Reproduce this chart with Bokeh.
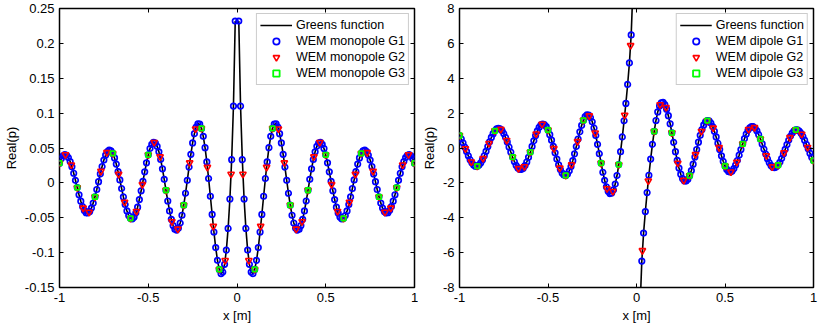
from bokeh.plotting import figure
from bokeh.models import (Range1d, FixedTicker, LinearAxis, CustomJSTickFormatter,
                          Legend, LegendItem)
from bokeh.layouts import row
from bokeh.embed import file_html
from bokeh.resources import INLINE

# ---------------- data ----------------
# sample positions: G1 every 0.01 m, G2 every 1/30 m, G3 every 0.1 m (source at x = 0 excluded)
x_g1_neg = [i / 100 for i in range(-100, 0)]
x_g1_pos = [i / 100 for i in range(1, 101)]
x_g2_neg = [j / 30 for j in range(-30, 0)]
x_g2_pos = [j / 30 for j in range(1, 31)]
x_g3_neg = [k / 10 for k in range(-10, 0)]
x_g3_pos = [k / 10 for k in range(1, 11)]

# monopole, G1 samples (x = -1.00 ... -0.01)
mono_g1_neg = [
    0.0283, 0.0345, 0.0387, 0.0404, 0.0396, 0.0363, 0.0306, 0.0230, 0.0138, 0.0037,
    -0.0068, -0.0170, -0.0262, -0.0339, -0.0395, -0.0427, -0.0432, -0.0410, -0.0362, -0.0290,
    -0.0200, -0.0095, 0.0017, 0.0129, 0.0235, 0.0327, 0.0399, 0.0448, 0.0469, 0.0460,
    0.0422, 0.0357, 0.0269, 0.0161, 0.0042, -0.0081, -0.0201, -0.0310, -0.0402, -0.0469,
    -0.0508, -0.0515, -0.0490, -0.0433, -0.0348, -0.0239, -0.0113, 0.0022, 0.0159, 0.0288,
    0.0402, 0.0493, 0.0553, 0.0581, 0.0571, 0.0525, 0.0445, 0.0335, 0.0201, 0.0051,
    -0.0106, -0.0260, -0.0402, -0.0522, -0.0612, -0.0665, -0.0677, -0.0648, -0.0575, -0.0464,
    -0.0319, -0.0149, 0.0037, 0.0227, 0.0409, 0.0573, 0.0706, 0.0800, 0.0846, 0.0841,
    0.0781, 0.0667, 0.0505, 0.0300, 0.0063, -0.0192, -0.0453, -0.0704, -0.0928, -0.1111,
    -0.1241, -0.1300, -0.1279, -0.1168, -0.0964, -0.0653, -0.0231, 0.0333, 0.1101, 0.2320]
# monopole, G1 samples (x = 0.01 ... 1.00)
mono_g1_pos = [
    0.2320, 0.1101, 0.0333, -0.0231, -0.0653, -0.0964, -0.1168, -0.1279, -0.1300, -0.1241,
    -0.1111, -0.0928, -0.0704, -0.0453, -0.0192, 0.0063, 0.0300, 0.0505, 0.0667, 0.0781,
    0.0841, 0.0846, 0.0800, 0.0706, 0.0573, 0.0409, 0.0227, 0.0037, -0.0149, -0.0319,
    -0.0464, -0.0575, -0.0648, -0.0677, -0.0665, -0.0612, -0.0522, -0.0402, -0.0260, -0.0106,
    0.0051, 0.0201, 0.0335, 0.0445, 0.0525, 0.0571, 0.0581, 0.0553, 0.0493, 0.0402,
    0.0288, 0.0159, 0.0022, -0.0113, -0.0239, -0.0348, -0.0433, -0.0490, -0.0515, -0.0508,
    -0.0469, -0.0402, -0.0310, -0.0201, -0.0081, 0.0042, 0.0161, 0.0269, 0.0357, 0.0422,
    0.0460, 0.0469, 0.0448, 0.0399, 0.0327, 0.0235, 0.0129, 0.0017, -0.0095, -0.0200,
    -0.0290, -0.0362, -0.0410, -0.0432, -0.0427, -0.0395, -0.0339, -0.0262, -0.0170, -0.0068,
    0.0037, 0.0138, 0.0230, 0.0306, 0.0363, 0.0396, 0.0404, 0.0387, 0.0345, 0.0283]
mono_g2_neg = [
    0.0283, 0.0404, 0.0257, -0.0068, -0.0360, -0.0420, -0.0200, 0.0166, 0.0435, 0.0422,
    0.0123, -0.0276, -0.0508, -0.0408, -0.0023, 0.0402, 0.0581, 0.0375, -0.0106, -0.0555,
    -0.0662, -0.0319, 0.0289, 0.0774, 0.0781, 0.0224, -0.0622, -0.1241, -0.1112, 0.0125]
mono_g2_pos = [
    0.0125, -0.1112, -0.1241, -0.0622, 0.0224, 0.0781, 0.0774, 0.0289, -0.0319, -0.0662,
    -0.0555, -0.0106, 0.0375, 0.0581, 0.0402, -0.0023, -0.0408, -0.0508, -0.0276, 0.0123,
    0.0422, 0.0435, 0.0166, -0.0200, -0.0420, -0.0360, -0.0068, 0.0257, 0.0404, 0.0283]
mono_g3_neg = [0.0283, -0.0068, -0.0200, 0.0422, -0.0508, 0.0402, -0.0106, -0.0319, 0.0781, -0.1241]
mono_g3_pos = [-0.1241, 0.0781, -0.0319, -0.0106, 0.0402, -0.0508, 0.0422, -0.0200, -0.0068, 0.0283]

# dipole, G1 samples (x = -1.00 ... -0.01)
dip_g1_neg = [
    0.718, 0.525, 0.297, 0.048, -0.207, -0.451, -0.670, -0.848, -0.976, -1.042,
    -1.044, -0.980, -0.853, -0.672, -0.445, -0.189, 0.083, 0.353, 0.604, 0.820,
    0.987, 1.093, 1.132, 1.101, 0.999, 0.833, 0.612, 0.349, 0.061, -0.235,
    -0.520, -0.777, -0.988, -1.141, -1.223, -1.229, -1.159, -1.014, -0.803, -0.537,
    -0.234, 0.090, 0.413, 0.716, 0.979, 1.185, 1.321, 1.376, 1.344, 1.227,
    1.031, 0.765, 0.446, 0.092, -0.275, -0.634, -0.960, -1.233, -1.435, -1.552,
    -1.573, -1.496, -1.322, -1.061, -0.726, -0.335, 0.087, 0.517, 0.928, 1.293,
    1.589, 1.796, 1.897, 1.883, 1.749, 1.502, 1.150, 0.713, 0.210, -0.328,
    -0.873, -1.391, -1.852, -2.225, -2.486, -2.611, -2.587, -2.406, -2.067, -1.578,
    -0.953, -0.212, 0.635, 1.563, 2.557, 3.644, 4.880, 6.487, 9.204, 16.91]
# dipole, G1 samples (x = 0.01 ... 1.00)
dip_g1_pos = [
    -16.91, -9.204, -6.487, -4.880, -3.644, -2.557, -1.563, -0.635, 0.212, 0.953,
    1.578, 2.067, 2.406, 2.587, 2.611, 2.486, 2.225, 1.852, 1.391, 0.873,
    0.328, -0.210, -0.713, -1.150, -1.502, -1.749, -1.883, -1.897, -1.796, -1.589,
    -1.293, -0.928, -0.517, -0.087, 0.335, 0.726, 1.061, 1.322, 1.496, 1.573,
    1.552, 1.435, 1.233, 0.960, 0.634, 0.275, -0.092, -0.446, -0.765, -1.031,
    -1.227, -1.344, -1.376, -1.321, -1.185, -0.979, -0.716, -0.413, -0.090, 0.234,
    0.537, 0.803, 1.014, 1.159, 1.229, 1.223, 1.141, 0.988, 0.777, 0.520,
    0.235, -0.061, -0.349, -0.612, -0.833, -0.999, -1.101, -1.132, -1.093, -0.987,
    -0.820, -0.604, -0.353, -0.083, 0.189, 0.445, 0.672, 0.853, 0.980, 1.044,
    1.042, 0.976, 0.848, 0.670, 0.451, 0.207, -0.048, -0.297, -0.525, -0.718]
dip_g2_neg = [
    0.718, -0.038, -0.794, -1.044, -0.600, 0.265, 0.987, 1.074, 0.441, -0.520,
    -1.176, -1.070, -0.234, 0.809, 1.365, 1.031, -0.030, -1.149, -1.573, -0.957,
    0.374, 1.589, 1.851, 0.867, -0.873, -2.326, -2.484, -0.953, 1.886, 5.88]
dip_g2_pos = [
    -5.88, -1.886, 0.953, 2.484, 2.326, 0.873, -0.867, -1.851, -1.589, -0.374,
    0.957, 1.573, 1.149, 0.030, -1.031, -1.365, -0.809, 0.234, 1.070, 1.176,
    0.520, -0.441, -1.074, -0.987, -0.265, 0.600, 1.044, 0.794, 0.038, -0.718]
dip_g3_neg = [0.718, -1.044, 0.987, -0.520, -0.234, 1.031, -1.573, 1.589, -0.873, -0.953]
dip_g3_pos = [0.953, 0.873, -1.589, 1.573, -1.031, 0.234, 0.520, -0.987, 1.044, -0.718]

x_ticks = [-1, -0.5, 0, 0.5, 1]
mono_y_ticks = [-0.15, -0.1, -0.05, 0, 0.05, 0.1, 0.15, 0.2, 0.25]
dip_y_ticks = [-8, -6, -4, -2, 0, 2, 4, 6, 8]

# ---------------- drawing ----------------
FONT = "Liberation Sans"
NAN = float("nan")
FMT = "var s = tick.toFixed(2); s = s.replace(/0+$/, ''); s = s.replace(/\\.$/, ''); if (s == '-0') { s = '0'; } return s;"


def style_axis(ax, ticks, label):
    ax.ticker = FixedTicker(ticks=ticks)
    ax.formatter = CustomJSTickFormatter(code=FMT)
    ax.axis_label = label
    ax.axis_label_text_font = FONT
    ax.axis_label_text_font_size = "13px"
    ax.axis_label_text_font_style = "normal"
    ax.axis_label_text_color = "black"
    ax.axis_label_standoff = 3
    ax.major_label_text_font = FONT
    ax.major_label_text_font_size = "13px"
    ax.major_label_text_color = "black"
    ax.major_label_standoff = 5
    ax.major_tick_in = 4
    ax.major_tick_out = 0
    ax.major_tick_line_color = "black"
    ax.major_tick_line_width = 1
    ax.minor_tick_line_color = None
    ax.axis_line_color = None


def make_panel(name, g1n, g1p, g2n, g2p, g3n, g3p, yr, yticks, width, mleft, mright):
    p = figure(width=width, height=327, output_backend="svg", toolbar_location=None,
               x_range=Range1d(-1, 1), y_range=Range1d(yr[0], yr[1]),
               min_border_left=mleft, min_border_right=mright,
               min_border_top=8, min_border_bottom=40)
    p.xgrid.visible = False
    p.ygrid.visible = False
    p.outline_line_color = "black"
    p.outline_line_width = 1.5
    p.outline_line_alpha = 1.0
    p.background_fill_color = "white"
    p.border_fill_color = "white"

    style_axis(p.xaxis[0], x_ticks, "x [m]")
    style_axis(p.yaxis[0], yticks, "Real(p)")
    for loc, ticks in (("above", x_ticks), ("right", yticks)):
        ax = LinearAxis(ticker=FixedTicker(ticks=ticks),
                        formatter=CustomJSTickFormatter(code="return ''"),
                        major_label_standoff=0, major_tick_in=4, major_tick_out=0,
                        major_tick_line_color="black", minor_tick_line_color=None,
                        axis_line_color=None)
        p.add_layout(ax, loc)

    xl = x_g1_neg + [0.0] + x_g1_pos
    yl = g1n + [NAN] + g1p
    r_line = p.line(xl, yl, line_color="black", line_width=1.6)
    r1 = p.scatter(x_g1_neg + x_g1_pos, g1n + g1p, marker="circle", size=5.5,
                   line_color="#0000FF", line_width=1.7, fill_color=None)
    r2 = p.scatter(x_g2_neg + x_g2_pos, g2n + g2p, marker="inverted_triangle", size=6.5,
                   line_color="#FF0000", line_width=1.6, fill_color=None)
    r3 = p.scatter(x_g3_neg + x_g3_pos, g3n + g3p, marker="square", size=4.5,
                   line_color="#00FF00", line_width=1.8, fill_color=None)

    legend = Legend(items=[
        LegendItem(label="Greens function", renderers=[r_line]),
        LegendItem(label="WEM %s G1" % name, renderers=[r1]),
        LegendItem(label="WEM %s G2" % name, renderers=[r2]),
        LegendItem(label="WEM %s G3" % name, renderers=[r3]),
    ], location="top_right")
    legend.margin = 5
    legend.padding = 3
    legend.spacing = 0
    legend.glyph_width = 32
    legend.glyph_height = 16
    legend.label_height = 16
    legend.label_standoff = 4
    legend.label_text_font = FONT
    legend.label_text_font_size = "12.5px"
    legend.label_text_color = "black"
    legend.border_line_color = "#999999"
    legend.border_line_width = 1
    legend.background_fill_color = "white"
    legend.background_fill_alpha = 1.0
    p.add_layout(legend)
    return p


p1 = make_panel("monopole", mono_g1_neg, mono_g1_pos, mono_g2_neg, mono_g2_pos,
                mono_g3_neg, mono_g3_pos, (-0.15, 0.25), mono_y_ticks, 418, 58, 4)
p2 = make_panel("dipole", dip_g1_neg, dip_g1_pos, dip_g2_neg, dip_g2_pos,
                dip_g3_neg, dip_g3_pos, (-8, 8), dip_y_ticks, 401, 39, 6)

layout = row(p1, p2, spacing=0)
open("out.html", "w").write(file_html(layout, INLINE))
